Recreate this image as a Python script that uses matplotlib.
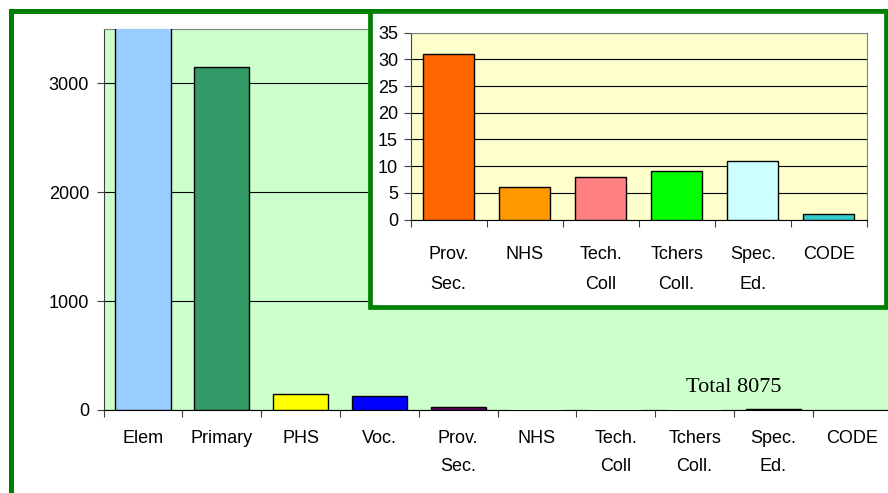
import matplotlib
matplotlib.use("Agg")
import matplotlib.pyplot as plt
import numpy as np
from matplotlib.patches import Rectangle

plt.rcParams['font.family'] = ['Liberation Sans', 'DejaVu Sans']

# all categories (main chart)
cats = ['Elem', 'Primary', 'PHS', 'Voc.', 'Prov.\nSec.', 'NHS',
        'Tech.\nColl', 'Tchers\nColl.', 'Spec.\nEd.', 'CODE']
vals = [4584, 3150, 150, 125, 31, 6, 8, 9, 11, 1]
main_colors = ['#99CCFF', '#339966', '#FFFF00', '#0000FF', '#660066',
               '#CCFFCC', '#CCFFCC', '#CCFFCC', '#000000', '#CCFFCC']
main_edges = ['black', 'black', 'black', 'black', 'black',
              'none', 'none', 'none', 'black', 'none']

# small categories (inset)
small_cats = cats[4:]
small_vals = vals[4:]
small_colors = ['#FF6600', '#FF9900', '#FF8080', '#00FF00', '#CCFFFF', '#33CCCC']

total_text = 'Total 8075'

W, H = 888, 493
fig = plt.figure(figsize=(W / 100, H / 100), dpi=100)
green = '#008000'

def fx(px): return px / W
def fy(py): return 1 - py / H

# outer frame
fig.add_artist(Rectangle((fx(10.5), -0.3), 1.2, fy(10.5) + 0.3, transform=fig.transFigure,
                         fill=False, edgecolor=green, linewidth=3.6, zorder=1))

# main chart
ax = fig.add_axes([fx(103.6), fy(410), fx(891.6) - fx(103.6), fy(29) - fy(410)], zorder=2)
ax.set_facecolor('#CCFFCC')
x = np.arange(len(cats))
ax.bar(x, vals, width=0.7, color=main_colors, edgecolor=main_edges, linewidth=1.0, zorder=3)
ax.set_xlim(-0.5, len(cats) - 0.5)
ax.set_ylim(0, 3500)
ax.set_yticks([0, 1000, 2000, 3000])
ax.yaxis.grid(True, color='black', linewidth=0.8, zorder=1)
ax.set_axisbelow(True)
ax.set_xticks(np.arange(len(cats) + 1) - 0.5)
ax.set_xticklabels([])
ax.set_xticks(x, minor=True)
ax.set_xticklabels(cats, minor=True, fontsize=13, linespacing=1.8)
ax.tick_params(axis='x', which='major', length=5, direction='out', width=0.8, color='#404040')
ax.tick_params(axis='x', which='minor', length=0, pad=14.5)
ax.tick_params(axis='y', length=5, width=0.8, labelsize=13, pad=5.5, color='#404040')
for s in ['top', 'right']:
    ax.spines[s].set_color('#808080')
ax.spines['left'].set_color('#404040')
ax.spines['bottom'].set_color('black')
ax.text(0.8, 0.06, total_text, transform=ax.transAxes, ha='center', va='center',
        fontsize=16, family=['Liberation Serif', 'DejaVu Serif'], zorder=4)

# inset frame
fig.add_artist(Rectangle((fx(369.5), fy(307)), fx(885.5) - fx(369.5), fy(10.5) - fy(307),
                         transform=fig.transFigure, facecolor='white', edgecolor=green,
                         linewidth=3.4, zorder=5))

# inset chart
ax2 = fig.add_axes([fx(410.5), fy(219.5), fx(866.7) - fx(410.5), fy(32.7) - fy(219.5)], zorder=6)
ax2.set_facecolor('#FFFFCC')
x2 = np.arange(len(small_cats))
ax2.bar(x2, small_vals, width=0.67, color=small_colors, edgecolor='black', linewidth=1.0, zorder=3)
ax2.set_xlim(-0.5, len(small_cats) - 0.5)
ax2.set_ylim(0, 35)
ax2.set_yticks(np.arange(0, 36, 5))
ax2.yaxis.grid(True, color='black', linewidth=0.8)
ax2.set_axisbelow(True)
ax2.set_xticks(np.arange(len(small_cats) + 1) - 0.5)
ax2.set_xticklabels([])
ax2.set_xticks(x2, minor=True)
ax2.set_xticklabels(small_cats, minor=True, fontsize=13, linespacing=2.0)
ax2.tick_params(axis='x', which='major', length=5, direction='out', width=0.8, color='#404040')
ax2.tick_params(axis='x', which='minor', length=0, pad=19)
ax2.tick_params(axis='y', length=5, width=0.8, labelsize=13, pad=4, color='#404040')
for s in ['top', 'right']:
    ax2.spines[s].set_color('#808080')
ax2.spines['left'].set_color('#404040')
ax2.spines['bottom'].set_color('black')

fig.savefig('out.png', dpi=100)
